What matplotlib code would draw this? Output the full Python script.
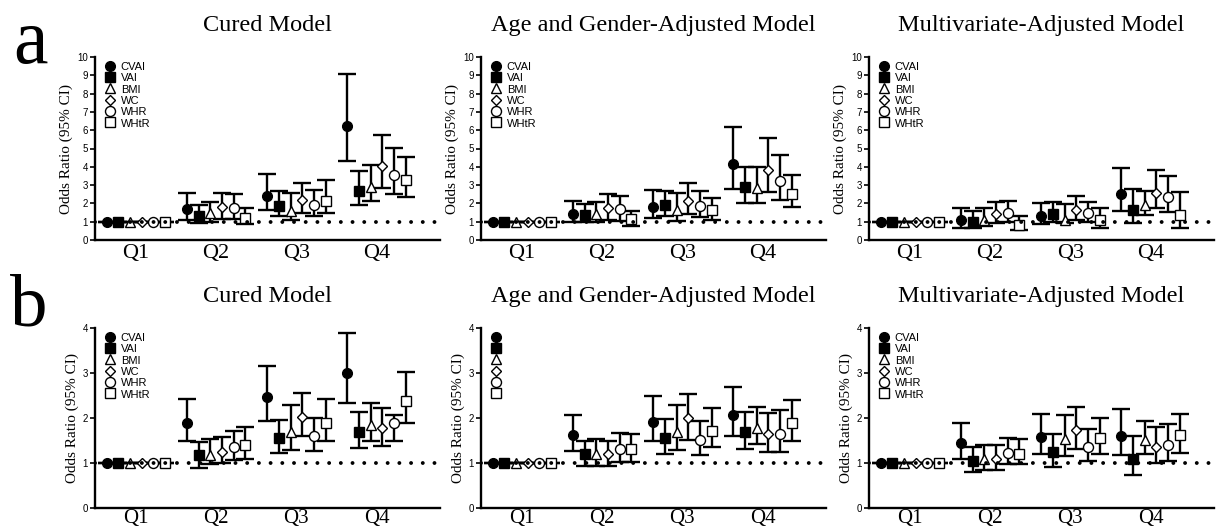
import numpy as np
import matplotlib.pyplot as plt
from matplotlib.lines import Line2D

quartiles = ['Q1', 'Q2', 'Q3', 'Q4']
indices = ['CVAI', 'VAI', 'BMI', 'WC', 'WHR', 'WHtR']

# rows = CVAI, VAI, BMI, WC, WHR, WHtR ; columns = Q1..Q4
# a - Cured Model
a_cured_or = [[1, 1.68, 2.42, 6.22], [1, 1.33, 1.88, 2.66], [1, 1.46, 1.60, 2.92],
              [1, 1.78, 2.19, 4.03], [1, 1.73, 1.91, 3.57], [1, 1.22, 2.11, 3.30]]
a_cured_lo = [[1, 1.09, 1.64, 4.30], [1, 0.95, 1.33, 1.91], [1, 1.00, 1.09, 2.11],
              [1, 1.15, 1.49, 2.82], [1, 1.13, 1.33, 2.51], [1, 0.85, 1.49, 2.37]]
a_cured_hi = [[1, 2.59, 3.61, 9.07], [1, 1.89, 2.66, 3.76], [1, 2.09, 2.55, 4.12],
              [1, 2.55, 3.13, 5.73], [1, 2.50, 2.72, 5.01], [1, 1.75, 3.28, 4.56]]
# a - Age and Gender-Adjusted Model
a_age_or = [[1, 1.42, 1.82, 4.15], [1, 1.36, 1.91, 2.87], [1, 1.40, 1.62, 2.82],
            [1, 1.75, 2.13, 3.82], [1, 1.69, 1.85, 3.22], [1, 1.13, 1.64, 2.51]]
a_age_lo = [[1, 1.00, 1.22, 2.78], [1, 0.96, 1.33, 2.00], [1, 1.00, 1.05, 2.00],
            [1, 1.09, 1.42, 2.60], [1, 1.05, 1.27, 2.18], [1, 0.78, 1.09, 1.82]]
a_age_hi = [[1, 2.15, 2.73, 6.18], [1, 1.95, 2.69, 4.00], [1, 2.09, 2.55, 4.00],
            [1, 2.49, 3.09, 5.58], [1, 2.42, 2.67, 4.67], [1, 1.60, 2.27, 3.53]]
# a - Multivariate-Adjusted Model
a_multi_or = [[1, 1.09, 1.33, 2.51], [1, 1.00, 1.42, 1.64], [1, 1.09, 1.09, 1.91],
              [1, 1.42, 1.62, 2.58], [1, 1.45, 1.45, 2.33], [1, 0.82, 1.09, 1.36]]
a_multi_lo = [[1, 0.67, 0.87, 1.58], [1, 0.64, 1.00, 0.95], [1, 0.76, 0.91, 1.38],
              [1, 0.95, 1.09, 1.73], [1, 1.00, 1.00, 1.55], [1, 0.55, 0.67, 0.64]]
a_multi_hi = [[1, 1.73, 2.00, 3.95], [1, 1.58, 2.09, 2.78], [1, 1.73, 1.96, 2.69],
              [1, 2.09, 2.40, 3.85], [1, 2.15, 2.09, 3.49], [1, 1.31, 1.76, 2.60]]
# b - Cured Model
b_cured_or = [[1, 1.89, 2.47, 3.01], [1, 1.17, 1.55, 1.69], [1, 1.18, 1.69, 1.84],
              [1, 1.24, 2.02, 1.77], [1, 1.36, 1.61, 1.89], [1, 1.40, 1.90, 2.37]]
b_cured_lo = [[1, 1.49, 1.93, 2.34], [1, 0.89, 1.22, 1.33], [1, 0.98, 1.29, 1.49],
              [1, 0.99, 1.61, 1.37], [1, 1.07, 1.26, 1.49], [1, 1.09, 1.50, 1.88]]
b_cured_hi = [[1, 2.42, 3.15, 3.88], [1, 1.47, 1.96, 2.13], [1, 1.53, 2.28, 2.34],
              [1, 1.57, 2.55, 2.23], [1, 1.72, 2.00, 2.06], [1, 1.79, 2.42, 3.02]]
# b - Age and Gender-Adjusted Model
b_age_or = [[1, 1.63, 1.92, 2.06], [1, 1.19, 1.55, 1.70], [1, 1.19, 1.70, 1.77],
            [1, 1.19, 1.99, 1.64], [1, 1.32, 1.52, 1.65], [1, 1.31, 1.72, 1.88]]
b_age_lo = [[1, 1.26, 1.48, 1.59], [1, 0.93, 1.21, 1.32], [1, 0.93, 1.28, 1.42],
            [1, 0.93, 1.52, 1.25], [1, 1.03, 1.17, 1.25], [1, 1.03, 1.35, 1.49]]
b_age_hi = [[1, 2.07, 2.48, 2.69], [1, 1.49, 1.97, 2.13], [1, 1.54, 2.28, 2.24],
            [1, 1.49, 2.53, 2.11], [1, 1.66, 1.94, 2.18], [1, 1.64, 2.22, 2.41]]
# b - Multivariate-Adjusted Model
b_multi_or = [[1, 1.45, 1.58, 1.61], [1, 1.04, 1.24, 1.08], [1, 1.08, 1.53, 1.51],
              [1, 1.10, 1.73, 1.35], [1, 1.23, 1.35, 1.40], [1, 1.21, 1.56, 1.63]]
b_multi_lo = [[1, 1.10, 1.19, 1.17], [1, 0.80, 0.91, 0.73], [1, 0.85, 1.15, 1.19],
              [1, 0.85, 1.32, 1.00], [1, 0.97, 1.04, 1.04], [1, 0.97, 1.19, 1.22]]
b_multi_hi = [[1, 1.89, 2.09, 2.20], [1, 1.35, 1.65, 1.59], [1, 1.41, 2.07, 1.93],
              [1, 1.39, 2.25, 1.80], [1, 1.56, 1.75, 1.86], [1, 1.54, 2.00, 2.10]]

titles = ['Cured Model', 'Age and Gender-Adjusted Model', 'Multivariate-Adjusted Model']

# marker, size, filled
styles = [('o', 7.0, True), ('s', 6.6, True), ('^', 7.0, False),
          ('D', 4.8, False), ('o', 7.2, False), ('s', 6.8, False)]

serif = 'Liberation Serif'
sans = 'Liberation Sans'

fig = plt.figure(figsize=(12.16, 5.31), dpi=100)
W, H = 1216.0, 531.0

panels = [
    (0, 0, a_cured_or, a_cured_lo, a_cured_hi, 10, True),
    (0, 1, a_age_or, a_age_lo, a_age_hi, 10, True),
    (0, 2, a_multi_or, a_multi_lo, a_multi_hi, 10, True),
    (1, 0, b_cured_or, b_cured_lo, b_cured_hi, 4, True),
    (1, 1, b_age_or, b_age_lo, b_age_hi, 4, False),
    (1, 2, b_multi_or, b_multi_lo, b_multi_hi, 4, True),
]

lefts = [95, 481, 869]
bottoms = [240, 508]
heights = [183, 180]
x = np.arange(len(quartiles))
offset = 0.146

for row, col, odds, lo, hi, ymax, with_text in panels:
    ax = fig.add_axes([lefts[col] / W, 1 - bottoms[row] / H, 345 / W, heights[row] / H])
    for i, name in enumerate(indices):
        m, ms, filled = styles[i]
        xi = x + (i - 2.5) * offset
        o = np.array(odds[i])
        err = [o - np.array(lo[i]), np.array(hi[i]) - o]
        ax.errorbar(xi, o, yerr=err, fmt='none', ecolor='black', elinewidth=1.7,
                    capsize=6.5, capthick=1.7, zorder=2)
        ax.plot(xi, o, linestyle='none', marker=m, markersize=ms,
                markerfacecolor='black' if filled else 'white',
                markeredgecolor='black', markeredgewidth=1.0,
                zorder=3)
    ax.axhline(1, color='black', linewidth=2.8, linestyle=(0, (0.01, 3.0)),
               dash_capstyle='round', zorder=4)

    ax.set_xlim(-0.51, 3.79)
    ax.set_ylim(0, ymax)
    ax.set_yticks(range(0, ymax + 1))
    ax.set_xticks(x)
    ax.set_xticklabels(quartiles, fontfamily=serif, fontsize=16 if row == 0 else 15)
    ax.tick_params(axis='x', length=0, pad=3 if row == 0 else 0.5)
    ax.tick_params(axis='y', length=3.5, width=1.2, pad=1.5, labelsize=7)
    for lab in ax.get_yticklabels():
        lab.set_fontfamily(sans)
    ax.spines['top'].set_visible(False)
    ax.spines['right'].set_visible(False)
    ax.spines['left'].set_linewidth(1.7)
    ax.spines['bottom'].set_linewidth(1.7)
    ax.set_ylabel('Odds Ratio (95% CI)', fontfamily=serif, fontsize=11, labelpad=3)
    ax.set_title(titles[col], fontfamily=serif, fontsize=17.5, pad=19)

    handles = []
    for i in range(len(indices)):
        m, ms, filled = styles[i]
        handles.append(Line2D([], [], linestyle='none', marker=m, markersize=ms,
                              markerfacecolor='black' if filled else 'white',
                              markeredgecolor='black', markeredgewidth=1.0))
    labels = indices if with_text else [''] * len(indices)
    ax.legend(handles, labels, loc='upper left', bbox_to_anchor=(0.028, 0.975),
              frameon=False, borderpad=0, borderaxespad=0, labelspacing=0.08,
              handlelength=1.0, handletextpad=0.45, handleheight=0.9,
              prop={'family': sans, 'size': 8})

fig.text(13 / W, 1 - 63 / H, 'a', fontfamily=serif, fontsize=56, ha='left', va='baseline')
fig.text(10 / W, 1 - 325 / H, 'b', fontfamily=serif, fontsize=54, ha='left', va='baseline')

plt.savefig('out.png', dpi=100)
